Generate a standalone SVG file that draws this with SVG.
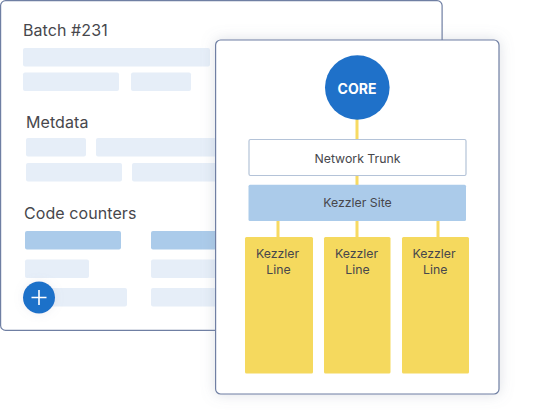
<svg xmlns="http://www.w3.org/2000/svg" width="545" height="414" viewBox="0 0 545 414">
<style>
text{font-family:Inter,"Liberation Sans",sans-serif;fill:#47474c}
.h{font-size:16px;letter-spacing:.08px}
.n{font-size:12.3px;text-anchor:middle}
.bar{fill:#e6eef8}
.bar2{fill:#abcbea}
.card{fill:#fff;stroke:#6f7fa3;stroke-width:1.2}
.line{fill:#f5d95e}
.conn{stroke:#f7da62;stroke-width:3;fill:none}
</style>
<defs>
<filter id="sh" x="-15%" y="-15%" width="130%" height="130%"><feDropShadow dx="0" dy="0" stdDeviation="7" flood-color="#8a94a8" flood-opacity="0.3"/></filter>
<filter id="sh2" x="-60%" y="-60%" width="220%" height="220%"><feDropShadow dx="0" dy="0" stdDeviation="5" flood-color="#8a94a8" flood-opacity="0.15"/></filter>
</defs>
<g id="batch-panel">
<rect class="card" x="0.6" y="0.6" width="441.5" height="329.8" rx="5"/>
<text class="h" x="23" y="36">Batch #231</text>
<rect class="bar" x="23" y="48" width="187" height="18.500" rx="2"/>
<rect class="bar" x="23" y="72.500" width="96" height="18.500" rx="2"/>
<rect class="bar" x="131" y="72.500" width="60" height="18.500" rx="2"/>
<text class="h" x="26" y="128">Metdata</text>
<rect class="bar" x="26" y="138" width="60" height="18.500" rx="2"/>
<rect class="bar" x="96" y="138" width="130" height="18.500" rx="2"/>
<rect class="bar" x="26" y="163" width="96" height="18.500" rx="2"/>
<rect class="bar" x="132" y="163" width="94" height="18.500" rx="2"/>
<text class="h" x="24" y="219">Code counters</text>
<rect class="bar2" x="25" y="231" width="96" height="18.500" rx="2"/>
<rect class="bar2" x="151" y="231" width="75" height="18.500" rx="2"/>
<rect class="bar" x="25" y="259.500" width="64" height="18.500" rx="2"/>
<rect class="bar" x="151" y="259.500" width="75" height="18.500" rx="2"/>
<rect class="bar" x="45" y="288" width="82" height="18.500" rx="2"/>
<rect class="bar" x="151" y="288" width="75" height="18.500" rx="2"/>
</g>
<g id="add-button" filter="url(#sh2)">
<circle cx="39" cy="297.500" r="16" fill="#1f71c9"/>
<path d="M39 290v15M31.500 297.500h15" stroke="#fff" stroke-width="1.600" fill="none"/>
</g>
<g id="topology-panel">
<rect class="card" x="215.600" y="40" width="283.400" height="354" rx="5" filter="url(#sh)"/>
</g>
<g id="connectors">
<path class="conn" d="M357 119V139M357 175V185M278 221V237M357 221V237M438 221V237"/>
</g>
<g id="core">
<circle cx="357.300" cy="87.500" r="32.300" fill="#1f71c9"/>
<text x="357" y="94" text-anchor="middle" style="font-size:14px;font-weight:700;fill:#fff">CORE</text>
</g>
<g id="network-trunk">
<rect x="249" y="139.500" width="217" height="36" rx="1.500" fill="#fff" stroke="#b4c3d8" stroke-width="1.200"/>
<text class="n" x="357.500" y="162.500">Network Trunk</text>
</g>
<g id="kezzler-site">
<rect x="248.500" y="184.700" width="217.500" height="36.300" rx="1.500" fill="#abcbea"/>
<text class="n" x="357.500" y="207">Kezzler Site</text>
</g>
<g id="line-1">
<rect class="line" x="245" y="237" width="68" height="136.500" rx="1.500"/>
<text class="n" x="277.500" y="257.500">Kezzler</text>
<text class="n" x="278.500" y="274">Line</text>
</g>
<g id="line-2">
<rect class="line" x="324" y="237" width="66.500" height="136.500" rx="1.500"/>
<text class="n" x="356.500" y="257.500">Kezzler</text>
<text class="n" x="357.500" y="274">Line</text>
</g>
<g id="line-3">
<rect class="line" x="402" y="237" width="67" height="136.500" rx="1.500"/>
<text class="n" x="434" y="257.500">Kezzler</text>
<text class="n" x="435.300" y="274">Line</text>
</g>
</svg>
